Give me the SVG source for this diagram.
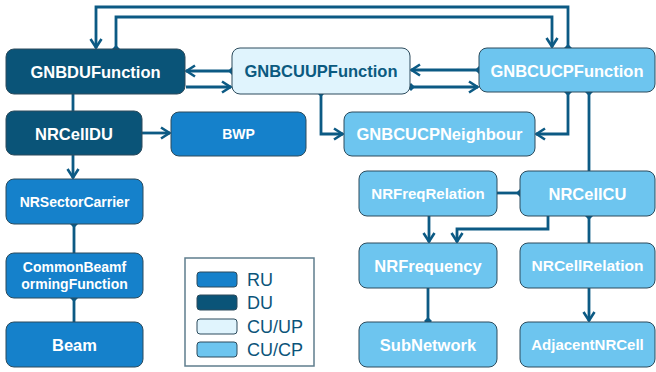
<svg xmlns="http://www.w3.org/2000/svg" width="656" height="372" viewBox="0 0 656 372">
<defs>
<style>
.n{stroke:#2c4b5c;stroke-width:1}
.ru{fill:#1581cb}
.du{fill:#0a5478}
.up{fill:#e0f4fd}
.cp{fill:#6dc5ef}
.t{font-family:"Liberation Sans",Arial,sans-serif;font-weight:bold;fill:#ffffff;text-anchor:middle;dominant-baseline:central;font-size:16.5px}
.s{font-size:14px}
.m{font-size:15px}
.dk{fill:#0b5a80}
.c{fill:none;stroke:#0c5a84;stroke-width:2.8}
.lg{font-family:"Liberation Sans",Arial,sans-serif;font-size:18px;fill:#0b547a;dominant-baseline:central}
</style>
<marker id="arr" viewBox="0 0 12 14" refX="10.5" refY="7" markerWidth="12" markerHeight="14" markerUnits="userSpaceOnUse" orient="auto">
<path d="M1.5,1.5 L10,7 L1.5,12.5" fill="none" stroke="#0c5a84" stroke-width="2.6"/>
</marker>
<marker id="dia" viewBox="0 0 8 8" refX="4" refY="4" markerWidth="8" markerHeight="8" markerUnits="userSpaceOnUse" orient="auto">
<path d="M0,4 L4,0 L8,4 L4,8Z" fill="#0c5a84"/>
</marker>
</defs>
<rect width="656" height="372" fill="#ffffff"/>
<g id="connectors">
<path class="c" d="M568,48 V7 H96 V48" marker-start="url(#dia)" marker-end="url(#arr)"/>
<path class="c" d="M116,49 V17 H552 V47" marker-start="url(#dia)" marker-end="url(#arr)"/>
<path class="c" d="M232,71 H186" marker-start="url(#dia)" marker-end="url(#arr)"/>
<path class="c" d="M186,87 H231" marker-end="url(#arr)"/>
<path class="c" d="M479,70 H411" marker-start="url(#dia)" marker-end="url(#arr)"/>
<path class="c" d="M411,87 H478" marker-start="url(#dia)" marker-end="url(#arr)"/>
<path class="c" d="M321,93 V134 H343" marker-start="url(#dia)" marker-end="url(#arr)"/>
<path class="c" d="M568,92 V134 H536" marker-start="url(#dia)" marker-end="url(#arr)"/>
<path class="c" d="M589,92 V171" marker-start="url(#dia)"/>
<path class="c" d="M73,94 V111"/>
<path class="c" d="M142,133 H170" marker-end="url(#arr)"/>
<path class="c" d="M73,155 V178" marker-end="url(#arr)"/>
<path class="c" d="M74,224 V253" marker-start="url(#dia)"/>
<path class="c" d="M74,298 V322" marker-start="url(#dia)"/>
<path class="c" d="M520,193 H497" marker-start="url(#dia)"/>
<path class="c" d="M429,216 V242" marker-end="url(#arr)"/>
<path class="c" d="M548,216 V229 H457 V242" marker-end="url(#arr)"/>
<path class="c" d="M589,216 V243" marker-start="url(#dia)"/>
<path class="c" d="M589,288 V321" marker-end="url(#arr)"/>
<path class="c" d="M428,288 V321" marker-end="url(#dia)"/>
</g>
<g id="GNBDUFunction"><rect class="n du" x="6" y="49" width="179" height="45" rx="8"/><text class="t" x="95.5" y="71.5">GNBDUFunction</text></g>
<g id="GNBCUUPFunction"><rect class="n up" x="232" y="48" width="178" height="46" rx="8"/><text class="t dk" x="321" y="71">GNBCUUPFunction</text></g>
<g id="GNBCUCPFunction"><rect class="n cp" x="479" y="48" width="176" height="44" rx="8"/><text class="t" x="567" y="70.5">GNBCUCPFunction</text></g>
<g id="NRCellDU"><rect class="n du" x="6" y="111" width="136" height="44" rx="8"/><text class="t" x="74" y="133.5">NRCellDU</text></g>
<g id="BWP"><rect class="n ru" x="171" y="112" width="135" height="44" rx="8"/><text class="t s" x="238.5" y="134">BWP</text></g>
<g id="GNBCUCPNeighbour"><rect class="n cp" x="344" y="112" width="191" height="44" rx="8"/><text class="t" x="439.5" y="134">GNBCUCPNeighbour</text></g>
<g id="NRSectorCarrier"><rect class="n ru" x="6" y="179" width="137" height="45" rx="8"/><text class="t s" x="74.5" y="201.5">NRSectorCarrier</text></g>
<g id="CommonBeamformingFunction"><rect class="n ru" x="6" y="253" width="137" height="45" rx="8"/><text class="t s" x="74.5" y="267">CommonBeamf</text><text class="t s" x="74.5" y="284">ormingFunction</text></g>
<g id="Beam"><rect class="n ru" x="6" y="322" width="137" height="45" rx="8"/><text class="t" x="74.5" y="344.5">Beam</text></g>
<g id="NRFreqRelation"><rect class="n cp" x="359" y="171" width="138" height="45" rx="8"/><text class="t m" x="428" y="193.5">NRFreqRelation</text></g>
<g id="NRCellCU"><rect class="n cp" x="520" y="171" width="135" height="45" rx="8"/><text class="t" x="587.5" y="193.5">NRCellCU</text></g>
<g id="NRFrequency"><rect class="n cp" x="359" y="243" width="138" height="45" rx="8"/><text class="t" x="428" y="265.5">NRFrequency</text></g>
<g id="NRCellRelation"><rect class="n cp" x="520" y="243" width="135" height="45" rx="8"/><text class="t" x="587.5" y="265.5" style="font-size:15.5px">NRCellRelation</text></g>
<g id="SubNetwork"><rect class="n cp" x="359" y="322" width="138" height="45" rx="8"/><text class="t" x="428" y="344.5">SubNetwork</text></g>
<g id="AdjacentNRCell"><rect class="n cp" x="520" y="322" width="135" height="45" rx="8"/><text class="t m" x="587.5" y="344.5">AdjacentNRCell</text></g>
<g id="legend">
<rect x="185" y="258" width="129" height="108" fill="#ffffff" stroke="#5f7d8d" stroke-width="1.5"/>
<rect class="n ru" x="197" y="272" width="40" height="15" rx="3"/>
<rect class="n du" x="197" y="295" width="40" height="15" rx="3"/>
<rect class="n up" x="197" y="319" width="40" height="15" rx="3"/>
<rect class="n cp" x="197" y="342" width="40" height="15" rx="3"/>
<text class="lg" x="247" y="280">RU</text>
<text class="lg" x="247" y="303">DU</text>
<text class="lg" x="247" y="327">CU/UP</text>
<text class="lg" x="247" y="350">CU/CP</text>
</g>
</svg>
